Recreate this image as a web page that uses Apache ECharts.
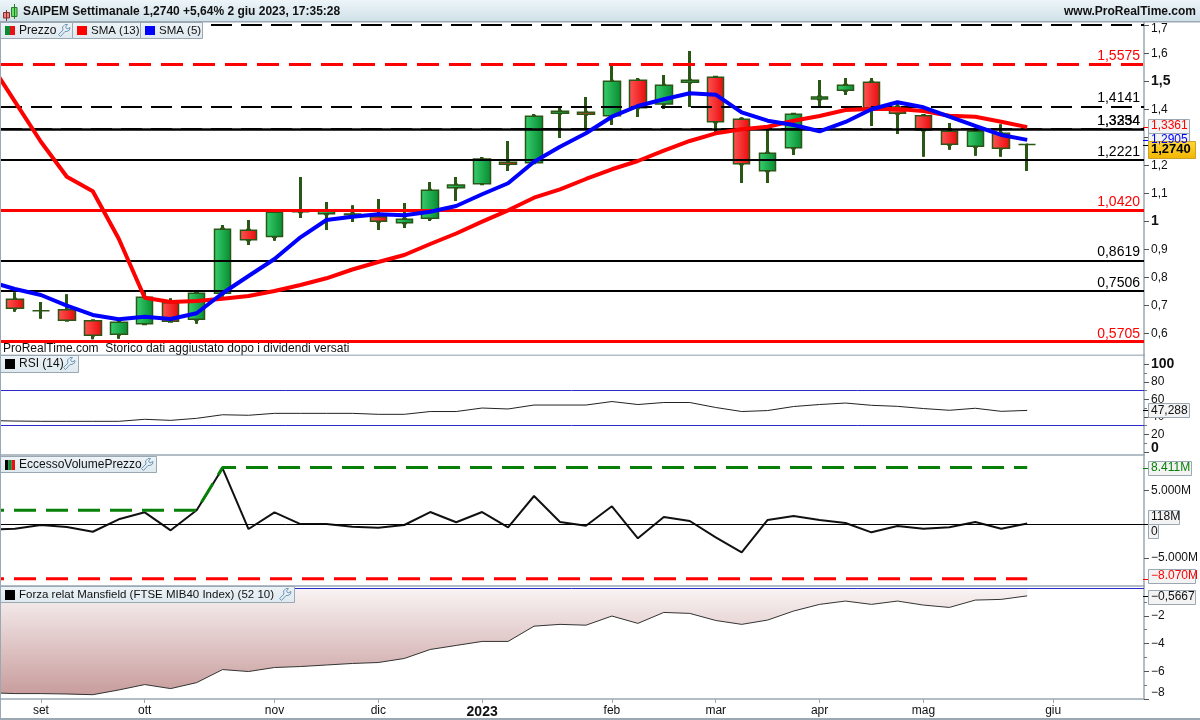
<!DOCTYPE html>
<html>
<head>
<meta charset="UTF-8">
<title>SAIPEM Settimanale</title>
<script type="text/javascript" src="https://cdn.jsdelivr.net/npm/echarts@6/dist/echarts.min.js"></script>
<style>html,body{margin:0;padding:0;background:#fff}</style>
</head>
<body>
<div id="main" style="width:1200px;height:720px"></div>
<script type="text/javascript">
// weekly bars, first entry lies just left of the visible area
var weeks = ['2022-08-22','2022-08-29','2022-09-05','2022-09-12','2022-09-19','2022-09-26','2022-10-03','2022-10-10','2022-10-17','2022-10-24','2022-10-31','2022-11-07','2022-11-14','2022-11-21','2022-11-28','2022-12-05','2022-12-12','2022-12-19','2022-12-26','2023-01-02','2023-01-09','2023-01-16','2023-01-23','2023-01-30','2023-02-06','2023-02-13','2023-02-20','2023-02-27','2023-03-06','2023-03-13','2023-03-20','2023-03-27','2023-04-03','2023-04-10','2023-04-17','2023-04-24','2023-05-01','2023-05-08','2023-05-15','2023-05-22','2023-05-29','2023-06-05','2023-06-12','2023-06-19','2023-06-26'];
var monthLabels = {'2022-09-05':'set','2022-10-03':'ott','2022-11-07':'nov','2022-12-05':'dic','2023-01-02':'2023','2023-02-06':'feb','2023-03-06':'mar','2023-04-03':'apr','2023-05-01':'mag','2023-06-05':'giu'};

var opens  = [null,.7213,.6806,.6841,.6448,.5963,.6341,.7091,.6498,.7427,.9677,.9456,1.0340,1.0270,1.0234,1.0163,.9948,1.0106,1.1198,1.1341,1.2106,1.2091,1.3856,1.3891,1.3770,1.5034,1.4188,1.4963,1.5141,1.3641,1.1806,1.2627,1.4366,1.4677,1.4963,1.4081,1.3770,1.3213,1.2677,1.3141,1.2740];
var closes = [null,.6891,.6806,.6463,.5927,.6391,.7284,.6427,.7427,.9713,.9341,1.0320,1.0356,1.0377,1.0259,.9998,1.0070,1.1106,1.1295,1.2223,1.2034,1.3748,1.3927,1.3820,1.4998,1.4056,1.4856,1.5034,1.3556,1.2056,1.2427,1.3820,1.4438,1.4856,1.4056,1.3856,1.3259,1.2748,1.3213,1.2606,1.2740];
var lows   = [null,.6770,.6520,.6463,.5784,.5806,.6295,.6427,.6341,.7306,.9152,.9306,1.0116,.9688,.9973,.9688,.9759,1.0009,1.0723,1.1295,1.1795,1.2091,1.2973,1.3259,1.3438,1.3723,1.4009,1.4081,1.3188,1.1366,1.1366,1.2366,1.4056,1.4509,1.3402,1.3116,1.2306,1.2556,1.2341,1.2306,1.1795];
var highs  = [null,.7463,.7116,.7391,.6448,.6391,.7509,.7248,.7427,.9866,1.0045,1.0402,1.1581,1.0688,1.0570,1.0795,1.0652,1.1402,1.1581,1.2295,1.2866,1.3831,1.4116,1.4438,1.5545,1.5116,1.5223,1.6081,1.5188,1.3713,1.3331,1.3866,1.5045,1.5116,1.5116,1.4270,1.3831,1.3509,1.3213,1.3463,1.2740];
var sma13  = [1.5706,1.4273,1.2838,1.1591,1.1070,.9377,.7270,.7116,.7152,.7234,.7331,.7509,.7723,.7963,.8277,.8545,.8795,.9188,.9563,.9984,1.0391,1.0841,1.1141,1.1509,1.1856,1.2152,1.2520,1.2866,1.3141,1.3284,1.3377,1.3591,1.3759,1.3973,1.4009,1.4009,1.3938,1.3770,1.3734,1.3556,1.3361];
var sma5   = [.7848,.7581,.7366,.6984,.6652,.6498,.6591,.6509,.6713,.7427,.8045,.8652,.9427,1.0045,1.0163,1.0248,1.0213,1.0341,1.0545,1.0963,1.1356,1.2127,1.2663,1.3141,1.3734,1.4116,1.4356,1.4570,1.4520,1.3891,1.3591,1.3438,1.3213,1.3545,1.3998,1.4248,1.4070,1.3734,1.3402,1.3081,1.2905];
var rsi    = [35.7,35.1,34.8,34.8,34.8,34.8,37.1,35.9,38.2,42.3,41.7,43.9,43.9,43.9,43.9,42.8,42.8,46,46,50,48.9,53.4,53.4,53.4,57.4,54,56.3,56.3,50.6,46,47.1,51.7,54,55.7,53.1,51.9,49.4,47.4,49.7,46.2,47.288];
var evp    = [-.77,-.65,-.10,-.40,-1.10,.74,1.78,-.89,2.08,8.31,-.70,1.78,.04,.04,-.36,-.50,-.10,1.82,.30,1.82,-.45,4.20,.34,-.21,2.67,-2.08,1.08,.49,-1.93,-4.15,.64,1.23,.64,.19,-1.19,-.25,-.65,-.45,.34,-.65,.118];
var evpMax = [2.08,2.08,2.08,2.08,2.08,2.08,2.08,2.08,2.08,8.411,8.411,8.411,8.411,8.411,8.411,8.411,8.411,8.411,8.411,8.411,8.411,8.411,8.411,8.411,8.411,8.411,8.411,8.411,8.411,8.411,8.411,8.411,8.411,8.411,8.411,8.411,8.411,8.411,8.411,8.411,8.411];
var evpMin = [-8.07,-8.07,-8.07,-8.07,-8.07,-8.07,-8.07,-8.07,-8.07,-8.07,-8.07,-8.07,-8.07,-8.07,-8.07,-8.07,-8.07,-8.07,-8.07,-8.07,-8.07,-8.07,-8.07,-8.07,-8.07,-8.07,-8.07,-8.07,-8.07,-8.07,-8.07,-8.07,-8.07,-8.07,-8.07,-8.07,-8.07,-8.07,-8.07,-8.07,-8.07];
var mansfield = [-7.55,-7.61,-7.61,-7.64,-7.69,-7.35,-6.96,-7.25,-6.82,-5.88,-6.02,-5.73,-5.66,-5.55,-5.44,-5.37,-5.08,-4.43,-4.14,-3.85,-3.85,-2.75,-2.62,-2.68,-2.02,-2.55,-1.76,-1.83,-2.34,-2.62,-2.31,-1.66,-1.18,-.94,-1.18,-.94,-1.23,-1.40,-.87,-.82,-.5667];

// horizontal levels: value, label, colour, width, dashed
var levels = [
	[1.7027,'','#000',2,true],
	[1.5575,'1,5575','#f00',3,true],
	[1.4141,'1,4141','#000',2,true],
	[1.3334,'1,3354','#000',2.5,false],
	[1.3270,'1,3234','#000',2,true],
	[1.2221,'1,2221','#000',2,false],
	[1.0420,'1,0420','#f00',3,false],
	[.8619,'0,8619','#000',2,false],
	[.7506,'0,7506','#000',2,false],
	[.5705,'0,5705','#f00',3,false]
];
var priceTicks = [.6,.7,.8,.9,1,1.1,1.2,1.3,1.4,1.5,1.6,1.7];
var rsiTicks = [0,20,40,60,80,100];
var rsiMinor = [10,30,50,70,90];
var evpTicks = [-5,5];
var mansfieldTicks = [-8,-6,-4,-2];
var mansfieldMinor = [-7,-5,-3,-1];

var FONT = '"Liberation Sans"';
var GREY = '#9aa8b3';
var WICK = '#2b5716';

var candles = weeks.slice(0, opens.length).map(function (w, i) {
	return opens[i] == null ? '-' : [opens[i], closes[i], lows[i], highs[i]];
});

var myEcharts = echarts.init(document.getElementById('main'), null, {renderer:'canvas'});

var panels = [[22,333],[355,100],[455,131],[586,113]];
var grids = panels.map(function (p) {
	return {left:-24, right:56, top:p[0], height:p[1], containLabel:false, outerBoundsMode:'none'};
});
var xAxes = panels.map(function (p, i) {
	var last = i == panels.length - 1;
	return {
		type:'category', gridIndex:i, data:weeks, boundaryGap:true,
		axisLine:{show:true, onZero:false, lineStyle:{color:GREY, width:1.5}},
		axisTick:{show:last, alignWithLabel:true, length:4, lineStyle:{color:GREY},
			interval:function (idx, v) { return !!monthLabels[v]; }},
		axisLabel:{show:last, margin:6, color:'#111', fontFamily:FONT, fontSize:12,
			interval:function (idx, v) { return !!monthLabels[v]; },
			formatter:function (v) {
				return v == '2023-01-02' ? '{y|2023}' : (monthLabels[v] || '');
			},
			rich:{y:{fontWeight:'bold', fontSize:14, fontFamily:FONT, color:'#111'}}},
		splitLine:{show:false}
	};
});
function yAxis(i, min, max, ticks, fmt, rich) {
	return {
		type:'value', gridIndex:i, position:'right', min:min, max:max,
		axisLine:{show:true, onZero:false, lineStyle:{color:GREY, width:1.5}},
		axisTick:{show:true, length:5, lineStyle:{color:'#555'}, customValues:ticks},
		axisLabel:{color:'#111', margin:7, fontFamily:FONT, fontSize:12, customValues:ticks,
			showMinLabel:true, showMaxLabel:true, formatter:fmt, rich:rich},
		splitLine:{show:false}
	};
}
// extra axis that only draws the short in-between ticks
function minorAxis(i, min, max, ticks) {
	return {
		type:'value', gridIndex:i, position:'right', min:min, max:max,
		axisLine:{show:false},
		axisTick:{show:true, length:3, lineStyle:{color:'#777'}, customValues:ticks},
		axisLabel:{show:false},
		splitLine:{show:false}
	};
}
function priceLabel(v) {
	var s = v.toFixed(1).replace('.', ',');
	if (Math.abs(v - 1) < 1e-6) return '{b|1}';
	if (Math.abs(v - 1.5) < 1e-6) return '{b|1,5}';
	if (Math.abs(v - 1.7) < 1e-6) return '{t|1,7}';
	return s;
}
var boldRich = {fontWeight:'bold', fontFamily:FONT, fontSize:14, color:'#111'};
var yAxes = [
	yAxis(0, 0.5223, 1.7116, priceTicks, priceLabel, {b:boldRich, t:{fontFamily:FONT, fontSize:12, color:'#111', padding:[7,0,0,0]}}),
	yAxis(1, -3.7, 110.6, rsiTicks, function (v) {
		if (v == 100) return '{b|100}';
		if (v == 0) return '{z|0}';
		return String(v);
	}, {b:boldRich, z:{fontWeight:'bold', fontFamily:FONT, fontSize:14, color:'#111', padding:[0,0,8,0]}}),
	yAxis(2, -9.15, 10.28, evpTicks, function (v) {
		return (v < 0 ? '\u22125.000M' : '5.000M');
	}),
	yAxis(3, -8, 0.145, mansfieldTicks, function (v) {
		return v == -8 ? '{z|\u22128}' : '\u2212' + Math.abs(v);
	}, {z:{fontFamily:FONT, fontSize:12, color:'#111', padding:[0,0,12,0]}}),
	minorAxis(1, -3.7, 110.6, rsiMinor),
	minorAxis(3, -8, 0.145, mansfieldMinor)
];

function hline(v, color, w) {
	return {yAxis:v, lineStyle:{color:color, width:w, type:'solid'}, label:{show:false}};
}
var noAnim = {silent:true, symbol:['none','none'], animation:false};

var levelLines = levels.map(function (l) {
	return {
		yAxis:l[0], name:l[1],
		lineStyle:{color:l[2], width:l[3], type:l[4] ? (l[3] == 3 ? [22,10] : [21,9]) : 'solid',
			dashOffset:l[3] == 3 ? 7 : 5},
		label:{show:!!l[1], color:l[2], position:'insideEndTop', distance:[4,1],
			formatter:'{b}', fontFamily:FONT, fontSize:14}
	};
});

var option = {
	animation:false,
	backgroundColor:'#fff',
	textStyle:{fontFamily:FONT},
	grid:grids,
	xAxis:xAxes,
	yAxis:yAxes,
	series:[
		// wick layer, thicker than the body border
		{type:'candlestick', name:'wick', xAxisIndex:0, yAxisIndex:0, data:candles, barWidth:2, z:2,
			itemStyle:{color:WICK, color0:WICK, borderColor:WICK, borderColor0:WICK, borderColorDoji:WICK, borderWidth:3}},
		{type:'candlestick', name:'Prezzo', xAxisIndex:0, yAxisIndex:0, data:candles, barWidth:17, z:3,
			itemStyle:{
				color:new echarts.graphic.LinearGradient(0,0,1,0,[{offset:0,color:'#38d070'},{offset:1,color:'#078a30'}]),
				color0:new echarts.graphic.LinearGradient(0,0,1,0,[{offset:0,color:'#ff5555'},{offset:1,color:'#e80a0a'}]),
				borderColor:WICK, borderColor0:WICK, borderColorDoji:WICK, borderWidth:1.5}},
		{type:'line', name:'levels', xAxisIndex:0, yAxisIndex:0, data:[], z:4,
			markLine:Object.assign({data:levelLines, z:4}, noAnim)},
		{type:'line', name:'SMA (13)', xAxisIndex:0, yAxisIndex:0, data:sma13, z:5, symbol:'none',
			lineStyle:{color:'#f00', width:4}},
		{type:'line', name:'SMA (5)', xAxisIndex:0, yAxisIndex:0, data:sma5, z:6, symbol:'none',
			lineStyle:{color:'#00f', width:4}},

		{type:'line', name:'RSI (14)', xAxisIndex:1, yAxisIndex:1, data:rsi, symbol:'none',
			lineStyle:{color:'#222', width:1},
			markLine:Object.assign({data:[hline(70,'#2a2ad0',1), hline(30,'#2a2ad0',1)]}, noAnim)},

		{type:'line', name:'EccessoVolumePrezzo', xAxisIndex:2, yAxisIndex:2, data:evp, symbol:'none', z:3,
			lineStyle:{color:'#111', width:2},
			markLine:Object.assign({data:[hline(0,'#000',1)]}, noAnim)},
		{type:'line', name:'max', xAxisIndex:2, yAxisIndex:2, data:evpMax, symbol:'none', z:4,
			lineStyle:{color:'#078007', width:3, type:[22,10], dashOffset:7}},
		{type:'line', name:'min', xAxisIndex:2, yAxisIndex:2, data:evpMin, symbol:'none', z:4,
			lineStyle:{color:'#f00', width:3, type:[22,10], dashOffset:7}},

		{type:'line', name:'Forza relat Mansfield', xAxisIndex:3, yAxisIndex:3, data:mansfield, symbol:'none',
			lineStyle:{color:'#333', width:1},
			areaStyle:{origin:'auto', opacity:1, color:new echarts.graphic.LinearGradient(0,0,0,1,[{offset:0,color:'#f9f4f4'},{offset:1,color:'#c89c9c'}])},
			markLine:Object.assign({data:[hline(0,'#2a2ad0',1)]}, noAnim)}
	]
};
myEcharts.setOption(option);

// window chrome: header bar, legend tabs, value boxes at the axis
var chrome = [];
function rect(x, y, w, h, fill, stroke, lw) {
	chrome.push({type:'rect', z:50, silent:true, shape:{x:x, y:y, width:w, height:h},
		style:{fill:fill, stroke:stroke || null, lineWidth:lw || 1}});
}
function label(x, y, s, o) {
	o = o || {};
	chrome.push({type:'text', z:52, silent:true, x:x, y:y, style:{text:s, fill:o.color || '#111',
		font:(o.bold ? 'bold ' : '') + (o.size || 12) + 'px ' + FONT,
		textAlign:o.align || 'left', textVerticalAlign:'middle'}});
}
function vgrad(a, b) {
	return new echarts.graphic.LinearGradient(0,0,0,1,[{offset:0,color:a},{offset:1,color:b}]);
}
function wrench(x, y) {
	chrome.push({type:'polygon', z:52, silent:true, x:x, y:y,
		shape:{points:[[0.5,10.5],[5,6],[4.5,3],[7,0.5],[9.5,0.5],[7.5,3],[9,5],[12,3.5],[11.5,6],[9,7.5],[7,7.5],[2.5,12.5]]},
		style:{fill:'none', stroke:'#6f97b8', lineWidth:1}});
}
function tab(x, y, w, h) {
	rect(x + .5, y + .5, w, h, vgrad('#eef4f8','#dde8ee'), GREY, 1);
}
// header
rect(0, 0, 1200, 22, vgrad('#edf5f9','#cfe0e8'));
rect(0, 21, 1200, 1.5, GREY);
rect(3.5, 12.5, 6, 5.5, '#f08080', '#803030', 1);
rect(11.5, 7.5, 5.5, 9, '#66e066', '#2a7a2a', 1);
rect(6, 10, 1, 11, '#803030');
rect(14, 4, 1, 15, '#2a7a2a');
label(23, 12, 'SAIPEM Settimanale 1,2740 +5,64% 2 giu 2023, 17:35:28', {bold:true});
label(1196, 12, 'www.ProRealTime.com', {bold:true, align:'right'});
// legend price
tab(0, 22, 72, 16); tab(72, 22, 68, 16); tab(140, 22, 62, 16);
rect(5, 26, 5, 9, '#0a8a33'); rect(10, 26, 5, 9, '#e81010');
label(19, 30.5, 'Prezzo', {size:12}); wrench(58, 24);
rect(77, 26, 10, 9, '#f00'); label(91, 30.5, 'SMA (13)', {size:11.5});
rect(145, 26, 10, 9, '#00f'); label(159, 30.5, 'SMA (5)', {size:11.5});
// caption
rect(1, 343, 1142, 11.5, '#fff');
label(3, 349, 'ProRealTime.com  Storico dati aggiustato dopo i dividendi versati', {size:12});
// other panel tabs
tab(0, 355, 78, 17); rect(5, 359, 10, 10, '#000'); label(19, 364, 'RSI (14)', {size:12}); wrench(63, 357);
tab(0, 456, 156, 16); rect(5, 460, 3.4, 10, '#000'); rect(8.4, 460, 3.3, 10, '#0a8a33'); rect(11.7, 460, 3.3, 10, '#e81010');
label(19, 464.5, 'EccessoVolumePrezzo', {size:12}); wrench(141, 458);
tab(0, 586, 294, 16); rect(5, 590, 10, 10, '#000');
label(19, 594.5, 'Forza relat Mansfield (FTSE MIB40 Index) (52 10)', {size:11.5}); wrench(279, 588);
// frame
rect(0, 22, 1, 698, GREY);
rect(0, 718, 1200, 2, GREY);

// value boxes follow the panel scales
function valueBox(axis, value, text, o) {
	var y = myEcharts.convertToPixel({yAxisIndex:axis}, value);
	var h = o.h || 14, cy = y + (o.dy || 0);
	if (o.tick) rect(1143, Math.round(y), 5, 1, o.tick);
	rect(1148.5, Math.round(cy - h / 2) + .5, o.w, h, o.fill || '#f3f3f3', o.stroke || GREY, 1);
	label(1151, cy, text, {bold:o.bold, color:o.color, size:o.size || 12});
}
valueBox(0, sma13[40], '1,3361', {w:41, color:'#f00', tick:'#f00', dy:-1});
valueBox(0, sma5[40], '1,2905', {w:41, color:'#00f', tick:'#00f'});
valueBox(0, closes[40], '1,2740', {w:47, h:17, bold:true, size:13, color:'#000', fill:vgrad('#ffd83a','#f2b400'), stroke:'#c9a227', dy:5, tick:'#000'});
valueBox(1, rsi[40], '47,288', {w:41, tick:'#000'});
valueBox(2, evpMax[40], '8.411M', {w:43, color:'#078007', tick:'#078007'});
valueBox(2, evp[40], '118M', {w:31, tick:'#000', dy:-7});
valueBox(2, 0, '0', {w:10, dy:7});
valueBox(2, evpMin[40], '\u22128.070M', {w:47, color:'#f00', tick:'#f00', dy:-3});
valueBox(3, mansfield[40], '\u22120,5667', {w:47, tick:'#000', dy:1});

myEcharts.setOption({graphic:chrome});
</script>
</body>
</html>
